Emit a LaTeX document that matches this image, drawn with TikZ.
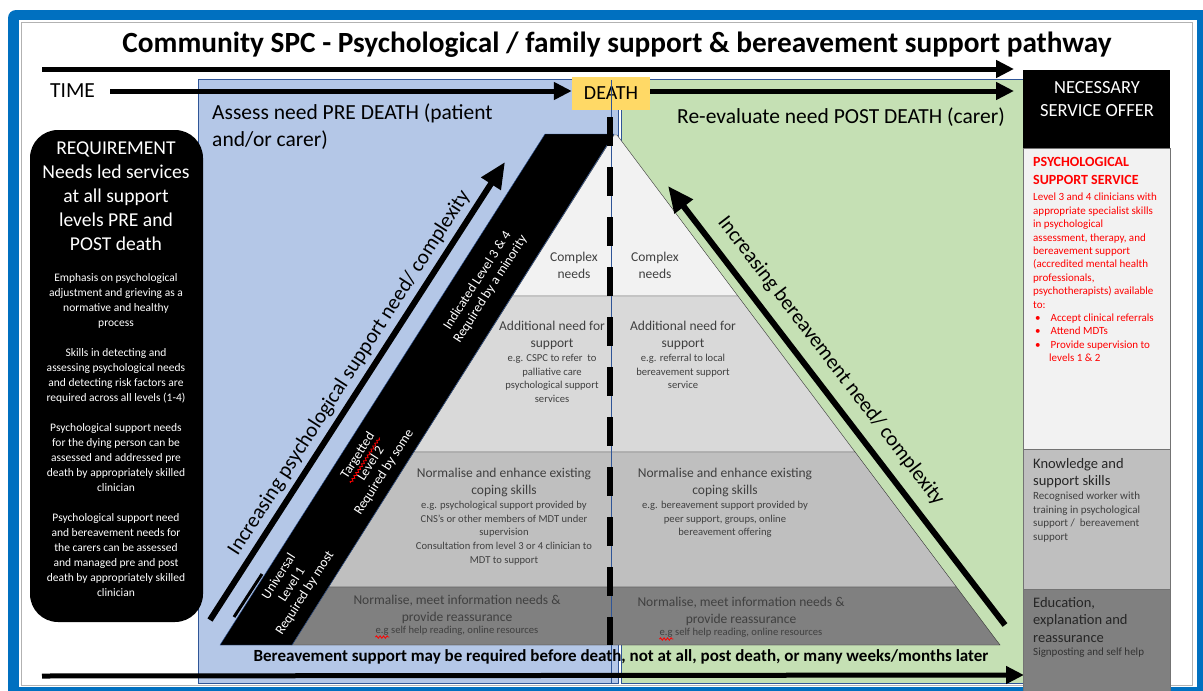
\documentclass[tikz,border=0pt]{standalone}
\usepackage{fontspec}
\setmainfont{Carlito}
\usetikzlibrary{arrows.meta,calc,decorations.pathmorphing}

\definecolor{frameblue}{HTML}{0070C0}
\definecolor{preblue}{HTML}{B4C7E7}
\definecolor{postgreen}{HTML}{C5E0B4}
\definecolor{edgeblue}{HTML}{2F5597}
\definecolor{deathyellow}{HTML}{FFD966}
\definecolor{tierA}{HTML}{F2F2F2}
\definecolor{tierB}{HTML}{D9D9D9}
\definecolor{tierC}{HTML}{BFBFBF}
\definecolor{tierD}{HTML}{808080}
\definecolor{inkgray}{HTML}{404040}
\definecolor{offerred}{HTML}{FF0000}

\newcommand{\setfs}[2]{\fontsize{#1}{#2}\selectfont}

\tikzset{
  timearrow/.style={line width=5pt, -{Triangle[length=18pt,width=17pt]}},
  needarrow/.style={line width=6pt, -{Triangle[length=26pt,width=22pt]}},
  tierlabel/.style={anchor=north, align=center, inner sep=0, text=inkgray, font=\setfs{13.5}{16.5}},
  tierdetail/.style={anchor=north, align=center, inner sep=0, text=inkgray, font=\setfs{10.6}{13.6}, yshift=-4.5pt},
  bandlabel/.style={align=center, inner sep=0, text=white, font=\setfs{13.5}{15.5}, rotate=57.4},
  offertext/.style={anchor=north west, align=left, inner sep=0, font=\setfs{11}{13.4}},
  spellmark/.style={red, line width=0.8pt, decorate, decoration={snake, amplitude=1.2pt, segment length=3.5pt}},
}

\begin{document}
\begin{tikzpicture}[x=1pt, y=-1pt]
  \useasboundingbox (0,0) rectangle (1203,691);

  % frame
  \fill[frameblue, rounded corners=8pt] (8,10) rectangle (1230,720);
  \fill[white] (19,20) rectangle (1197,687);
  \draw[black!30] (21,22) rectangle (1192,685);

  % title
  \node[font=\setfs{29.3}{34}\bfseries] (title) at (617,45)
    {Community SPC - Psychological / family support \& bereavement support pathway};

  % pre and post death areas
  \filldraw[fill=preblue, draw=edgeblue] (198,79) rectangle (618,683);
  \filldraw[fill=postgreen, draw=edgeblue] (621,79) rectangle (1023,683);

  % time line
  \coordinate (topStart) at (42,69);
  \coordinate (topEnd) at (1014,69);
  \draw[timearrow] (topStart) -- (topEnd);
  \node[font=\setfs{21.5}{26}, anchor=west, inner sep=0] (time) at (50,91) {TIME};
  \node[fill=deathyellow, font=\setfs{20}{24}, minimum width=78, minimum height=33, inner sep=0] (death) at (611,93) {DEATH};
  \coordinate (timeStart) at (110,91);
  \coordinate (postEnd) at (1014,91);
  \draw[timearrow] (timeStart) -- (timeStart -| death.west);
  \draw[timearrow] (postEnd -| death.east) -- (postEnd);

  \node[font=\setfs{21.5}{27}, anchor=north west, align=left, inner sep=0] (preHead) at (212,104)
    {Assess need PRE DEATH (patient\\and/or carer)};
  \node[font=\setfs{21.5}{27}, inner sep=0] (postHead) at (841,117) {Re-evaluate need POST DEATH (carer)};

  % requirement box
  \fill[black, rounded corners=28pt] (30,130) rectangle (203,622);
  \node[text=white, align=center, font=\setfs{19.6}{24}, anchor=north, inner sep=0] (reqHead) at (116,142)
    {REQUIREMENT\\Needs led services\\at all support\\levels PRE and\\POST death};
  \node[text=white, align=center, font=\setfs{11.5}{15}, anchor=north, inner sep=0] (reqBody) at (116,273)
    {Emphasis on psychological\\adjustment and grieving as a\\normative and healthy\\process\\[15pt]
     Skills in detecting and\\assessing psychological needs\\and detecting risk factors are\\required across all levels (1-4)\\[15pt]
     Psychological support needs\\for the dying person can be\\assessed and addressed pre\\death by appropriately skilled\\clinician\\[15pt]
     Psychological support need\\and bereavement needs for\\the carers can be assessed\\and managed pre and post\\death by appropriately skilled\\clinician};

  % pyramid tiers
  \coordinate (apexL) at (614,135); \coordinate (baseL) at (292,645);
  \coordinate (apexR) at (617,135); \coordinate (baseR) at (1000,645);
  \foreach \ya/\yb/\tone [evaluate=\ya as \ta using (\ya-135)/510,
                          evaluate=\yb as \tb using (\yb-135)/510]
      in {135/296/tierA, 296/452/tierB, 452/587/tierC, 587/645/tierD}
    \filldraw[fill=\tone, draw=black!80]
      ($(apexL)!\ta!(baseL)$) -- ($(apexR)!\ta!(baseR)$)
      -- ($(apexR)!\tb!(baseR)$) -- ($(apexL)!\tb!(baseL)$) -- cycle;

  % level band
  \filldraw[fill=black, draw=edgeblue] (545,134) -- (614,134) -- (292,645) -- (220,645) -- cycle;
  \node[bandlabel] (lvlHigh) at (484,285) {Indicated Level 3 \& 4\\Required by a minority};
  \node[bandlabel] (lvlMid) at (371,464) {Targetted\\Level 2\\Required by some};
  \node[bandlabel] (lvlLow) at (292,585) {Universal\\Level 1\\Required by most};
  \draw[spellmark] ($(lvlMid)+(-20.5,19)$) -- ($(lvlMid)+(8.7,-26.4)$);

  % death divide
  \draw[edgeblue] (611,80) -- (611,683);
  \draw[line width=6pt, dash pattern=on 29pt off 21pt] (610,117) -- (610,645);

  % tier texts
  \node[tierlabel] (complexPre) at (574,252) {Complex\\needs};
  \node[tierlabel] (complexPost) at (655,252) {Complex\\needs};

  \node[tierlabel] (extraPre) at (552,321) {Additional need for\\support};
  \node[tierdetail] (extraPreEg) at (extraPre.south)
    {e.g. CSPC to refer\ \ to\\palliative care\\psychological support\\services};
  \node[tierlabel] (extraPost) at (683,321) {Additional need for\\support};
  \node[tierdetail] (extraPostEg) at (extraPost.south)
    {e.g. referral to local\\bereavement support\\service};

  \node[tierlabel] (copePre) at (504,468) {Normalise and enhance existing\\coping skills};
  \node[tierdetail] (copePreEg) at (copePre.south)
    {e.g. psychological support provided by\\CNS's or other members of MDT under\\supervision\\Consultation from level 3 or 4 clinician to\\MDT to support};
  \node[tierlabel] (copePost) at (725,468) {Normalise and enhance existing\\coping skills};
  \node[tierdetail] (copePostEg) at (copePost.south)
    {e.g. bereavement support provided by\\peer support, groups, online\\bereavement offering};

  \node[tierlabel] (infoPre) at (457,595) {Normalise, meet information needs \&\\provide reassurance};
  \node[tierdetail, yshift=2pt] (infoPreEg) at (infoPre.south) {e.g self help reading, online resources};
  \node[tierlabel] (infoPost) at (741,597) {Normalise, meet information needs \&\\provide reassurance};
  \node[tierdetail, yshift=2pt] (infoPostEg) at (infoPost.south) {e.g self help reading, online resources};
  \draw[spellmark] ($(infoPreEg.south west)+(0,1.5)$) -- +(14,0);
  \draw[spellmark] ($(infoPostEg.south west)+(0,1.5)$) -- +(14,0);

  % need arrows
  \coordinate (psyLow) at (210,620); \coordinate (psyHigh) at (505,162);
  \draw[needarrow] (psyLow) -- (psyHigh);
  \path (psyLow) -- node[pos=0.52, sloped, above=4pt, font=\setfs{21}{25}] (psyLabel)
    {Increasing psychological support need/ complexity} (psyHigh);
  \draw[line width=3pt] (234,617) -- (262,574);

  \coordinate (berHigh) at (668,186); \coordinate (berLow) at (1005,625);
  \draw[needarrow] (berLow) -- (berHigh);
  \path (berHigh) -- node[pos=0.43, sloped, above=10pt, font=\setfs{21}{25}] (berLabel)
    {Increasing bereavement need/ complexity} (berLow);

  % bottom line
  \coordinate (botStart) at (42,676); \coordinate (botEnd) at (1024,675);
  \draw[timearrow] (botStart) -- (botEnd);
  \node[font=\setfs{17}{20}\bfseries, inner sep=0] (anyTime) at (621,657)
    {Bereavement support may be required before death, not at all, post death, or many weeks/months later};

  % service offer column
  \fill[black] (1023,70) rectangle (1170,148);
  \node[text=white, align=center, font=\setfs{18.5}{23}, inner sep=0] (offer) at (1097,99) {NECESSARY\\SERVICE OFFER};
  \foreach \ya/\yb/\tone in {148/449/tierA, 449/589/tierC, 589/700/tierD}
    \filldraw[fill=\tone, draw=black!55] (1023,\ya) rectangle (1170,\yb);

  \node[offertext, text=offerred, font=\setfs{14}{18}\bfseries] (specHead) at (1033,157)
    {PSYCHOLOGICAL\\SUPPORT SERVICE};
  \node[offertext, text=offerred] (specBody) at (1033,193)
    {Level 3 and 4 clinicians with\\appropriate specialist skills\\in psychological\\assessment, therapy, and\\bereavement support\\(accredited mental health\\professionals,\\psychotherapists) available\\to:\\
     \hspace*{2pt}\textbullet\hspace{10pt}Accept clinical referrals\\
     \hspace*{2pt}\textbullet\hspace{10pt}Attend MDTs\\
     \hspace*{2pt}\textbullet\hspace{10pt}Provide supervision to\\
     \hspace*{16pt}levels 1 \& 2};

  \node[offertext, text=black!85, font=\setfs{14.5}{17.5}] (knowHead) at (1033,458) {Knowledge and\\support skills};
  \node[offertext, text=inkgray] (knowBody) at (1033,492)
    {Recognised worker with\\training in psychological\\support / \ bereavement\\support};
  \node[offertext, text=black!85, font=\setfs{14.5}{17.5}] (eduHead) at (1033,597) {Education,\\explanation and\\reassurance};
  \node[offertext, text=black!80] (eduBody) at (1033,648) {Signposting and self help};
\end{tikzpicture}
\end{document}
